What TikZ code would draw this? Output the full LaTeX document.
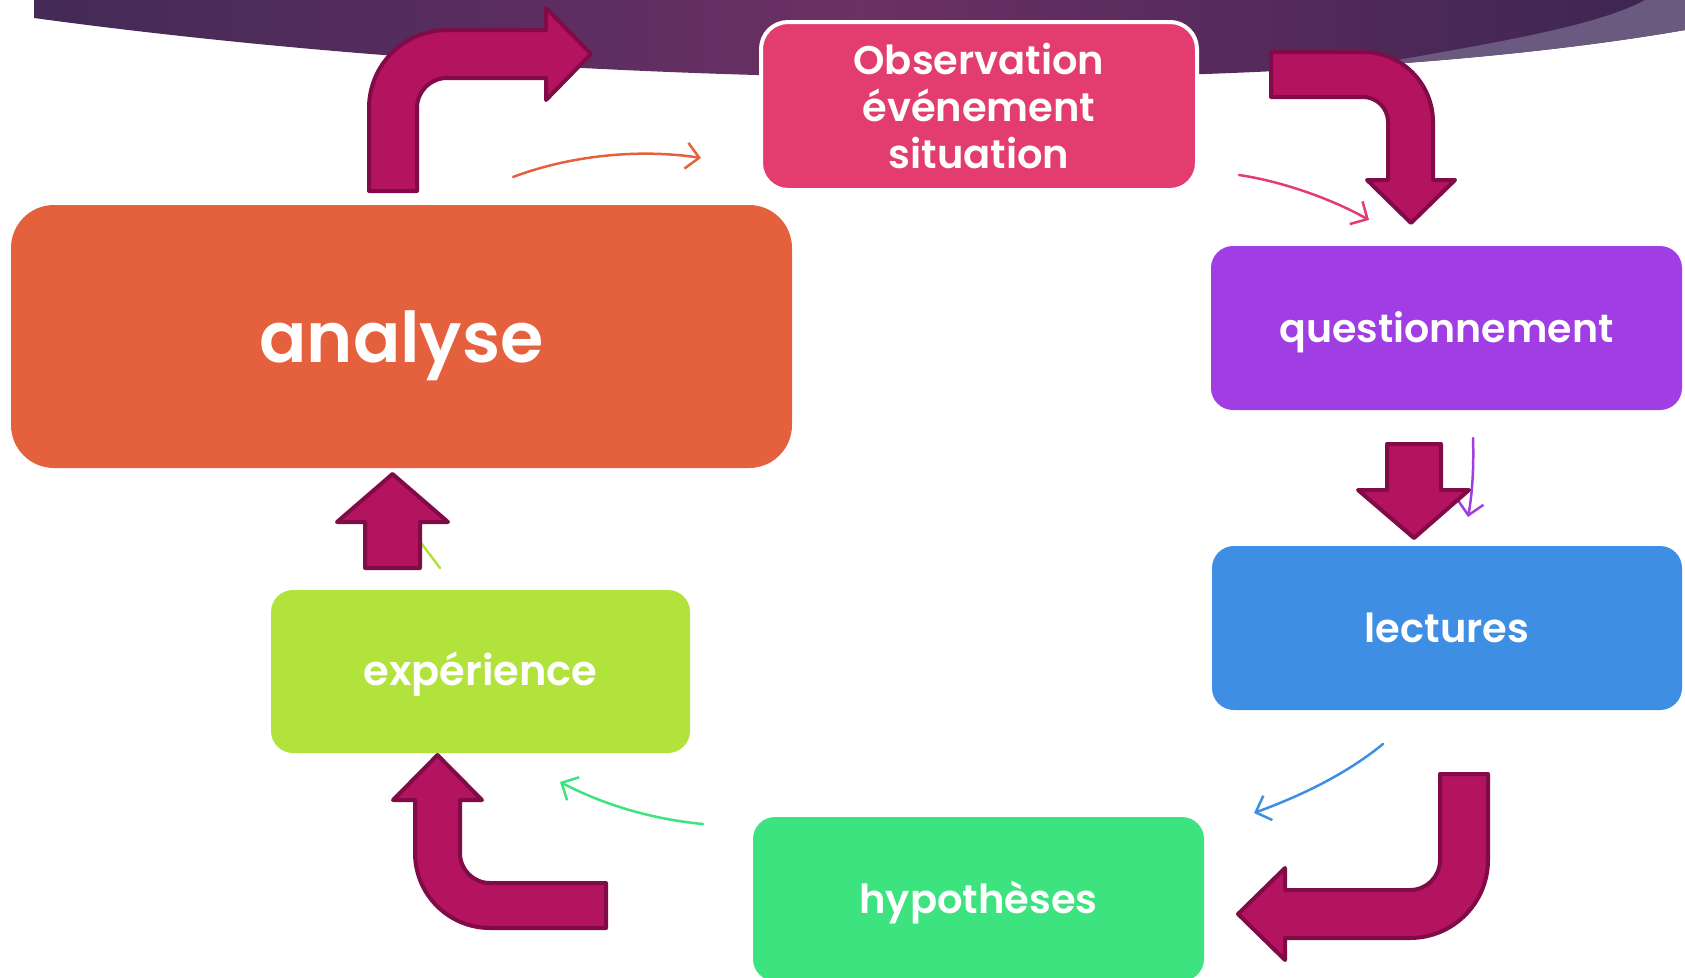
\documentclass[tikz,border=0pt]{standalone}
\usepackage{fontspec}
\setmainfont{Poppins}[BoldFont={Poppins SemiBold}]
\usetikzlibrary{arrows.meta}

\definecolor{bandL}{HTML}{432A57}
\definecolor{bandM}{HTML}{6B3064}
\definecolor{bandR}{HTML}{3C2551}
\definecolor{bandLight}{HTML}{6B5A7F}
\definecolor{obsC}{HTML}{E33D6F}
\definecolor{anaC}{HTML}{E5603D}
\definecolor{queC}{HTML}{A03DE3}
\definecolor{lecC}{HTML}{3E8EE3}
\definecolor{hypC}{HTML}{3DE37F}
\definecolor{expC}{HTML}{B2E33D}
\definecolor{arrFill}{HTML}{B3135F}
\definecolor{arrEdge}{HTML}{800B47}

\tikzset{
  stagebox/.style={rounded corners=22pt, inner sep=0pt, align=center,
    text=white, font=\fontsize{40}{47}\selectfont\bfseries},
  oneline/.style={text height=40pt, text depth=12pt},
  bigarrow/.style={fill=arrFill, draw=arrEdge, line width=4pt, line join=round},
  thinarrow/.style={line width=2.5pt, line cap=round,
    -{Straight Barb[length=13pt,width=26pt,line width=2.5pt]}},
}

\begin{document}
\begin{tikzpicture}[x=1pt,y=-1pt]
\useasboundingbox (0,0) rectangle (1685,977);

% header band with its light swoosh on the right
\path[left color=bandL, right color=bandR, middle color=bandM]
  (34,0) -- (1685,0) -- (1685,30)
  .. controls (1300,97) and (600,95) .. (34,18) -- cycle;
\begin{scope}
  \clip (34,0) -- (1685,0) -- (1685,30)
    .. controls (1300,97) and (600,95) .. (34,18) -- cycle;
  \fill[bandLight] (1386,62) .. controls (1500,42) and (1600,25) .. (1645,0)
    -- (1700,0) -- (1700,120) -- (1386,120) -- cycle;
\end{scope}

% thin connector end points
\coordinate (oa1) at (513,177);  \coordinate (oa2) at (701,158);
\coordinate (pa1) at (1239,175); \coordinate (pa2) at (1369,220);
\coordinate (va1) at (1473,438); \coordinate (va2) at (1468,517);
\coordinate (ba1) at (1383,744); \coordinate (ba2) at (1254,813);
\coordinate (ga1) at (703,824);  \coordinate (ga2) at (560,782);
\coordinate (la1) at (440,568);  \coordinate (la2) at (400,515);

% thin curved connectors
\draw[thinarrow, anaC] (oa1) .. controls (580,152) and (650,150) .. (oa2);
\draw[thinarrow, obsC] (pa1) .. controls (1280,181) and (1330,198) .. (pa2);
\draw[thinarrow, queC] (va1) .. controls (1474,470) and (1472,495) .. (va2);
\draw[thinarrow, lecC] (ba1) .. controls (1345,775) and (1300,796) .. (ba2);
\draw[thinarrow, hypC] (ga1) .. controls (660,820) and (610,808) .. (ga2);
\draw[thinarrow, expC] (la1) -- (la2);

% stages
\node[stagebox, fill=obsC, draw=white, line width=4pt,
  minimum width=436pt, minimum height=168pt, rounded corners=27pt]
  (obs) at (979,106) {Observation\\événement\\situation};
\node[stagebox, fill=anaC, minimum width=781pt, minimum height=263pt,
  rounded corners=43pt, font=\fontsize{70}{80}\selectfont\bfseries,
  text height=60pt, text depth=9pt]
  (ana) at (401.5,336.5) {analyse};
\node[stagebox, oneline, fill=queC, minimum width=471pt, minimum height=164pt,
  font=\fontsize{39.5}{47}\selectfont\bfseries]
  (que) at (1446.5,328) {questionnement};
\node[stagebox, oneline, fill=lecC, minimum width=470pt, minimum height=164pt]
  (lec) at (1447,628) {lectures};
\node[stagebox, oneline, fill=hypC, minimum width=451pt, minimum height=164pt]
  (hyp) at (978.5,899) {hypothèses};
\node[stagebox, oneline, fill=expC, minimum width=419pt, minimum height=163pt,
  font=\fontsize{41.5}{47}\selectfont\bfseries]
  (exp) at (480.5,671.5) {expérience};

% block arrows between stages
% analyse -> observation (up, then right)
\draw[bigarrow] (369,191) -- (369,108)
  .. controls (369,65) and (404,30) .. (447,30) -- (546,30) -- (546,8)
  -- (591,54) -- (546,100) -- (546,78) -- (447,78)
  .. controls (430.4,78) and (417,91.4) .. (417,108) -- (417,191) -- cycle;
% observation -> questionnement (right, then down)
\draw[bigarrow] (1271,52) -- (1363,52)
  .. controls (1401.6,52) and (1433,83.4) .. (1433,122) -- (1433,180)
  -- (1455,180) -- (1411,223) -- (1367,180) -- (1388,180) -- (1388,122)
  .. controls (1388,108.2) and (1376.8,97) .. (1363,97) -- (1271,97) -- cycle;
% questionnement -> lectures (down)
\draw[bigarrow] (1387,444) -- (1441,444) -- (1441,490) -- (1469,490)
  -- (1414,538) -- (1358,490) -- (1387,490) -- cycle;
% lectures -> hypotheses (down, then left)
\draw[bigarrow] (1440,774) -- (1488,774) -- (1488,860)
  .. controls (1488,903) and (1453,938) .. (1410,938) -- (1285,938)
  -- (1285,960) -- (1238,914) -- (1285,868) -- (1285,890) -- (1410,890)
  .. controls (1426.6,890) and (1440,876.6) .. (1440,860) -- cycle;
% hypotheses -> experience (left, then up)
\draw[bigarrow] (606,883) -- (490,883)
  .. controls (473.4,883) and (460,869.6) .. (460,853) -- (460,800)
  -- (482,800) -- (437.5,755) -- (393,800) -- (415,800) -- (415,853)
  .. controls (415,894.4) and (448.6,928) .. (490,928) -- (606,928) -- cycle;
% experience -> analyse (up)
\draw[bigarrow] (365,568) -- (420,568) -- (420,522) -- (448,522)
  -- (392.5,474) -- (337,522) -- (365,522) -- cycle;
\end{tikzpicture}
\end{document}
